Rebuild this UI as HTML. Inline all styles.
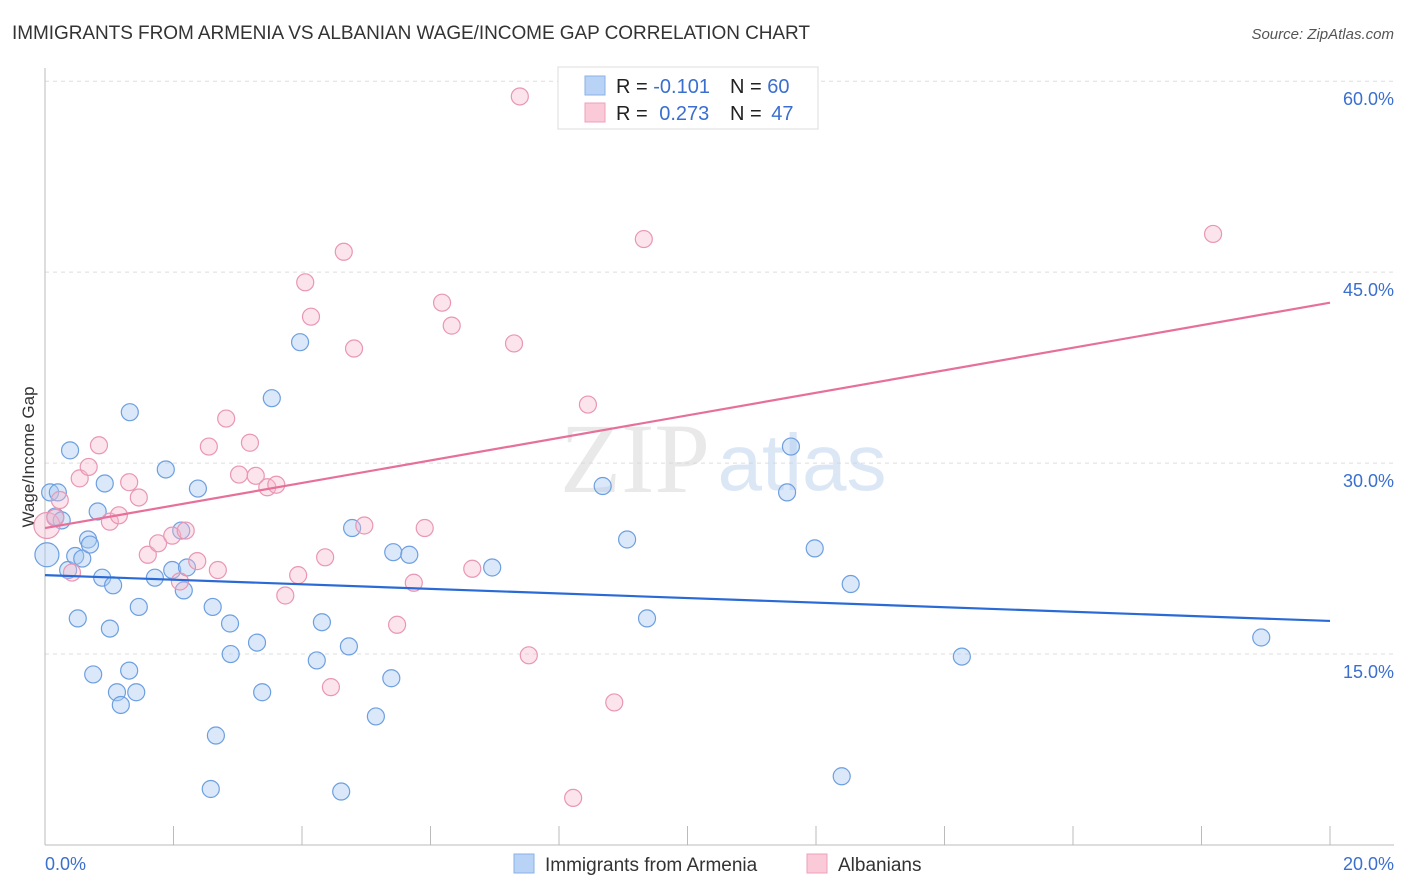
<!DOCTYPE html>
<html><head><meta charset="utf-8">
<style>
body{margin:0;background:#fff;font-family:"Liberation Sans",sans-serif;}
svg{display:block}
</style></head>
<body>
<svg id="chart" width="1406" height="892" viewBox="0 0 1406 892" xmlns="http://www.w3.org/2000/svg">
<text x="12" y="39" font-size="19" fill="#333" textLength="798">IMMIGRANTS FROM ARMENIA VS ALBANIAN WAGE/INCOME GAP CORRELATION CHART</text>
<text x="1394" y="39" font-size="15" fill="#555" font-style="italic" text-anchor="end">Source: ZipAtlas.com</text>
<g id="grid"></g>
<g>
<text x="635" y="492" font-size="100" fill="#d8d8d8" font-family="Liberation Serif,serif" text-anchor="middle" opacity="0.55">ZIP</text>
<text x="802" y="490" font-size="80" fill="#c0d4f0" text-anchor="middle" opacity="0.55">atlas</text>
</g>
<line x1="45" y1="68" x2="45" y2="845" stroke="#bbb"/>
<line x1="45" y1="845" x2="1394" y2="845" stroke="#bbb"/>
<g id="xticks"></g>
<g id="ylabels"></g>
<text x="45" y="870" font-size="18" fill="#3a6fd0">0.0%</text>
<text x="1394" y="870" font-size="18" fill="#3a6fd0" text-anchor="end">20.0%</text>
<text transform="translate(34,457) rotate(-90)" font-size="17" fill="#333" text-anchor="middle">Wage/Income Gap</text>
<g id="pts"></g>
<g id="lines"></g>
<g>
<rect x="558" y="67" width="260" height="62" fill="#fff" stroke="#ddd"/>
<rect x="585" y="76" width="20" height="19" fill="#b8d3f5" stroke="#8ab2e6"/>
<rect x="585" y="103" width="20" height="19" fill="#fbcad8" stroke="#eea0ba"/>
<text x="616" y="93" font-size="20" fill="#222">R = <tspan fill="#3a6fd0">-0.101</tspan></text>
<text x="730" y="93" font-size="20" fill="#222">N = <tspan fill="#3a6fd0">60</tspan></text>
<text x="616" y="120" font-size="20" fill="#222">R = <tspan fill="#3a6fd0" dx="6">0.273</tspan></text>
<text x="730" y="120" font-size="20" fill="#222">N = <tspan fill="#3a6fd0" dx="4">47</tspan></text>
</g>
<g>
<rect x="514" y="854" width="20" height="19" fill="#b8d3f5" stroke="#8ab2e6"/>
<text x="545" y="871" font-size="19" fill="#333">Immigrants from Armenia</text>
<rect x="807" y="854" width="20" height="19" fill="#fbcad8" stroke="#eea0ba"/>
<text x="838" y="871" font-size="19" fill="#333">Albanians</text>
</g>
</svg>
<script>
const yTicks=[15,30,45,60];
const yTickLabels=["15.0%","30.0%","45.0%","60.0%"];
const xTickVals=[0,2,4,6,8,10,12,14,16,18,20];
const blueX=[0.03,0.08,0.2,0.16,0.26,0.39,0.36,0.47,0.58,0.51,0.67,0.7,0.82,0.93,0.89,1.01,0.75,1.06,1.12,1.18,1.32,1.31,1.42,1.46,1.71,1.88,1.98,2.12,2.16,2.21,2.38,2.61,2.88,2.89,2.66,2.58,3.30,3.38,3.53,3.97,4.23,4.31,4.61,4.73,4.78,5.15,5.39,5.42,5.67,6.96,8.68,9.06,9.37,11.55,11.61,11.98,12.54,12.40,14.27,18.93];
const blueY=[22.8,27.7,27.7,25.8,25.5,31.0,21.6,22.7,22.5,17.8,24.0,23.6,26.2,28.4,21.0,17.0,13.4,20.4,12.0,11.0,34.0,13.7,12.0,18.7,21.0,29.5,21.6,24.7,20.0,21.8,28.0,18.7,17.4,15.0,8.6,4.4,15.9,12.0,35.1,39.5,14.5,17.5,4.2,15.6,24.9,10.1,13.1,23.0,22.8,21.8,28.2,24.0,17.8,27.7,31.3,23.3,20.5,5.4,14.8,16.3];
const pinkX=[0.03,0.16,0.23,0.42,0.54,0.68,0.84,1.01,1.15,1.31,1.46,1.60,1.76,1.98,2.10,2.19,2.37,2.55,2.69,2.82,3.02,3.19,3.28,3.46,3.60,3.74,3.94,4.05,4.14,4.36,4.45,4.65,4.81,4.97,5.48,5.74,5.91,6.18,6.33,6.65,7.30,7.39,7.53,8.22,8.45,8.86,9.32,18.18];
const pinkY=[25.1,25.7,27.1,21.4,28.8,29.7,31.4,25.4,25.9,28.5,27.3,22.8,23.7,24.3,20.7,24.7,22.3,31.3,21.6,33.5,29.1,31.6,29.0,28.1,28.3,19.6,21.2,44.2,41.5,22.6,12.4,46.6,39.0,25.1,17.3,20.6,24.9,42.6,40.8,21.7,39.4,58.8,14.9,3.7,34.6,11.2,47.6,48.0];
const blueTrend=[21.2,17.6];
const pinkTrend=[24.9,42.6];
const NS="http://www.w3.org/2000/svg";
function sx(v){return 45+v/20*1285;}
function sy(v){return 845-v*12.73;}
function mk(tag,attrs,parent){const e=document.createElementNS(NS,tag);for(const k in attrs)e.setAttribute(k,attrs[k]);parent.appendChild(e);return e;}
const grid=document.getElementById('grid'),yl=document.getElementById('ylabels'),xt=document.getElementById('xticks');
yTicks.forEach((t,i)=>{
 const l=mk('line',{x1:45,x2:1394,y1:sy(t),y2:sy(t),stroke:'#ddd','stroke-dasharray':'4,4'},grid);
 
 
 const tx=mk('text',{x:1394,y:sy(t)+24,'font-size':18,fill:'#3a6fd0','text-anchor':'end'},yl);
 tx.textContent=yTickLabels[i];
 
 
});
xTickVals.forEach(v=>{
 const l=mk('line',{x1:sx(v),x2:sx(v),y1:826,y2:845,stroke:'#bbb'},xt);
 
 
});
const pts=document.getElementById('pts');
blueX.forEach((x,i)=>{
 const c=mk('circle',{cx:sx(x),cy:sy(blueY[i]),r:i==0?12:8.5,fill:'#a8c8f0','fill-opacity':0.42,stroke:'#6d9fe0','stroke-width':1.2},pts);
 
 
});
pinkX.forEach((x,i)=>{
 const c=mk('circle',{cx:sx(x),cy:sy(pinkY[i]),r:i==0?13:8.5,fill:'#f6b8cc','fill-opacity':0.38,stroke:'#e996b4','stroke-width':1.2},pts);
 
 
});
const lines=document.getElementById('lines');
const bl=mk('line',{x1:sx(0),y1:sy(blueTrend[0]),x2:sx(20),y2:sy(blueTrend[1]),stroke:'#2a6ad6','stroke-width':2.2},lines);


const pl=mk('line',{x1:sx(0),y1:sy(pinkTrend[0]),x2:sx(20),y2:sy(pinkTrend[1]),stroke:'#e6709a','stroke-width':2.2},lines);


</script>
</body></html>
